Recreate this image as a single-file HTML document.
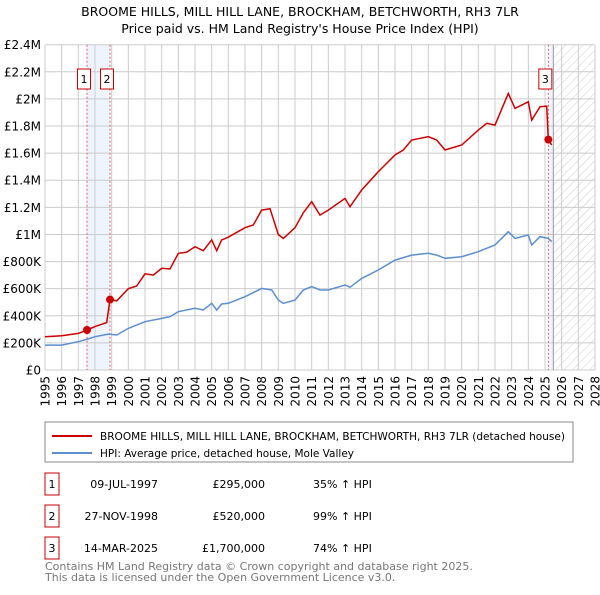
<!DOCTYPE html>
<html><head><meta charset="utf-8"><style>
body{margin:0;background:#fff;font-family:"Liberation Sans","DejaVu Sans",sans-serif;}
svg text{font-family:"DejaVu Sans","Liberation Sans",sans-serif;}
</style></head><body>
<svg id="c" width="600" height="590" xmlns="http://www.w3.org/2000/svg">
<defs><pattern id="hatch" width="6" height="6" patternUnits="userSpaceOnUse" patternTransform="rotate(45)"><line x1="0" y1="0" x2="0" y2="6" stroke="#ccc" stroke-width="1"/></pattern></defs>
<text x="300" y="16" text-anchor="middle" font-size="12.5">BROOME HILLS, MILL HILL LANE, BROCKHAM, BETCHWORTH, RH3 7LR</text>
<text x="300" y="33" text-anchor="middle" font-size="12.5">Price paid vs. HM Land Registry's House Price Index (HPI)</text>
<g id="grid"></g><g id="marks"></g>
<rect x="45" y="422" width="528" height="40" fill="#fff" stroke="#888"/>
<line x1="52" y1="436" x2="92" y2="436" stroke="#cc0000" stroke-width="2"/>
<text x="100" y="440" font-size="11" textLength="465" lengthAdjust="spacingAndGlyphs">BROOME HILLS, MILL HILL LANE, BROCKHAM, BETCHWORTH, RH3 7LR (detached house)</text>
<line x1="52" y1="453" x2="92" y2="453" stroke="#5b8fd0" stroke-width="2"/>
<text x="100" y="457" font-size="11" textLength="254" lengthAdjust="spacingAndGlyphs">HPI: Average price, detached house, Mole Valley</text>
<g font-size="11">
<rect x="45" y="473" width="14" height="22" fill="#fff" stroke="#cc0000"/><text x="52" y="488" text-anchor="middle">1</text>
<text x="158" y="488" text-anchor="end">09-JUL-1997</text><text x="265" y="488" text-anchor="end">£295,000</text><text x="313" y="488">35% ↑ HPI</text>
<rect x="45" y="505" width="14" height="22" fill="#fff" stroke="#cc0000"/><text x="52" y="520" text-anchor="middle">2</text>
<text x="158" y="520" text-anchor="end">27-NOV-1998</text><text x="265" y="520" text-anchor="end">£520,000</text><text x="313" y="520">99% ↑ HPI</text>
<rect x="45" y="537" width="14" height="22" fill="#fff" stroke="#cc0000"/><text x="52" y="552" text-anchor="middle">3</text>
<text x="158" y="552" text-anchor="end">14-MAR-2025</text><text x="265" y="552" text-anchor="end">£1,700,000</text><text x="313" y="552">74% ↑ HPI</text>
</g>
<text x="45" y="570" font-size="11" fill="#777">Contains HM Land Registry data © Crown copyright and database right 2025.</text>
<text x="45" y="581" font-size="11" fill="#777">This data is licensed under the Open Government Licence v3.0.</text>
</svg>
<script>
const yTicks=[0,200,400,600,800,1000,1200,1400,1600,1800,2000,2200,2400];
const yTickLabels=["£0","£200K","£400K","£600K","£800K","£1M","£1.2M","£1.4M","£1.6M","£1.8M","£2M","£2.2M","£2.4M"];
const hpiYears=[1995,1996,1997,1997.5,1998,1998.8,1999.3,2000,2001,2002,2002.5,2003,2004,2004.5,2005,2005.3,2005.6,2006,2007,2008,2008.6,2009,2009.3,2010,2010.5,2011,2011.5,2012,2013,2013.3,2014,2015,2016,2017,2018,2018.5,2019,2020,2021,2022,2022.8,2023.2,2024,2024.2,2024.7,2025.2,2025.4];
const hpiValues=[184,184,209,226,246,265,258,307,356,381,393,430,455,443,492,443,487,492,541,602,590,516,492,516,590,615,590,590,627,610,676,738,811,848,861,848,824,836,873,922,1020,971,996,922,984,971,947];
const redYears=[1995,1996,1997,1997.52,1998,1998.7,1998.9,1999.3,2000,2000.5,2001,2001.5,2002,2002.5,2003,2003.5,2004,2004.5,2005,2005.3,2005.6,2006,2007,2007.5,2008,2008.5,2009,2009.3,2010,2010.5,2011,2011.5,2012,2013,2013.3,2014,2015,2016,2016.5,2017,2018,2018.5,2019,2020,2021,2021.5,2022,2022.8,2023.2,2024,2024.2,2024.7,2025.1,2025.2,2025.4];
const redValues=[246,252,270,295,320,350,520,510,600,620,710,700,750,745,860,870,910,880,960,880,960,980,1050,1070,1180,1190,1000,970,1050,1160,1242,1143,1180,1266,1205,1328,1463,1586,1623,1697,1721,1697,1623,1660,1770,1820,1807,2041,1930,1979,1844,1942,1947,1700,1660];
const saleYears=[1997.52,1998.9,2025.2];
const saleValues=[295,520,1700];
const saleLabels=["1","2","3"];
const xLeft=45,xRight=595,yTop=44.7,yBot=370,x0=1995,x1=2028,yMax=2400;
const X=y=>xLeft+(y-x0)/(x1-x0)*(xRight-xLeft);
const Y=v=>yBot-v/yMax*(yBot-yTop);
const NS="http://www.w3.org/2000/svg";
function mk(p,t,a){const e=document.createElementNS(NS,t);for(const k in a)e.setAttribute(k,a[k]);p.appendChild(e);return e;}
const g=document.getElementById('grid'),m=document.getElementById('marks');
mk(g,'rect',{x:X(2025.5),y:yTop,width:xRight-X(2025.5),height:yBot-yTop,fill:'url(#hatch)'});
let b1=mk(g,'rect',{x:X(saleYears[0]),y:yTop,width:X(saleYears[1])-X(saleYears[0]),height:yBot-yTop,fill:'#eef3fc'});


let b3=mk(g,'rect',{x:X(saleYears[2]),y:yTop,width:X(2025.5)-X(saleYears[2]),height:yBot-yTop,fill:'#eef3fc'});


for(let yr=x0;yr<=x1;yr++){
 mk(g,'line',{x1:X(yr),x2:X(yr),y1:yTop,y2:yBot,stroke:'#ccc','stroke-width':1});
 const t=mk(g,'text',{x:0,y:0,'font-size':12,'text-anchor':'end',transform:`translate(${X(yr)+4.5},${yBot+6}) rotate(-90)`});
 t.textContent=yr;
 
 
}
yTicks.forEach((v,i)=>{
 mk(g,'line',{x1:xLeft,x2:xRight,y1:Y(v),y2:Y(v),stroke:'#ccc','stroke-width':1});
 const t=mk(g,'text',{x:41,y:Y(v)+4.5,'font-size':12,'text-anchor':'end'});
 t.textContent=yTickLabels[i];
 
 
});
mk(g,'line',{x1:X(2025.5),x2:X(2025.5),y1:yTop,y2:yBot,stroke:'#999','stroke-width':1});
saleYears.forEach(s=>mk(g,'line',{x1:X(s),x2:X(s),y1:yTop,y2:yBot,stroke:'#e06060','stroke-width':1,'stroke-dasharray':'2,2'}));
const pts=(xs,vs)=>xs.map((x,i)=>X(x).toFixed(1)+','+Y(vs[i]).toFixed(1)).join(' ');
const hl=mk(m,'polyline',{points:pts(hpiYears,hpiValues),fill:'none',stroke:'#5b8fd0','stroke-width':1.5});


const rl=mk(m,'polyline',{points:pts(redYears,redValues),fill:'none',stroke:'#cc0000','stroke-width':1.5});


saleYears.forEach((s,i)=>{
 const c=mk(m,'circle',{cx:X(s),cy:Y(saleValues[i]),r:4,fill:'#cc0000'});
 
 
 const bx=X(s)-9.5;
 const r=mk(m,'rect',{x:bx,y:69,width:13,height:20,fill:'#fff',stroke:'#cc0000'});
 
 
 const t=mk(m,'text',{x:bx+6.5,y:83,'font-size':11,'text-anchor':'middle'});
 t.textContent=saleLabels[i];
});
</script>
</body></html>
